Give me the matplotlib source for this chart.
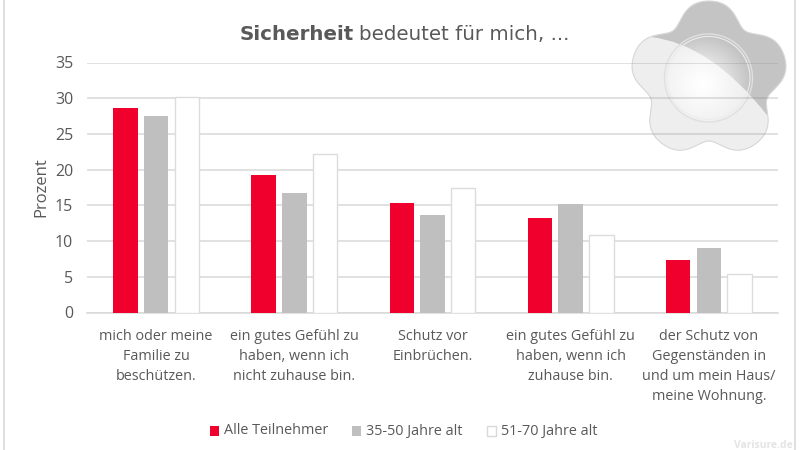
import numpy as np
import matplotlib
matplotlib.use("Agg")
import matplotlib.pyplot as plt
from matplotlib.patches import Polygon, Circle, Rectangle, PathPatch
from matplotlib.path import Path

categories = ["mich oder meine\nFamilie zu\nbeschützen.",
              "ein gutes Gefühl zu\nhaben, wenn ich\nnicht zuhause bin.",
              "Schutz vor\nEinbrüchen.",
              "ein gutes Gefühl zu\nhaben, wenn ich\nzuhause bin.",
              "der Schutz von\nGegenständen in\nund um mein Haus/\nmeine Wohnung."]
alle = [28.7, 19.2, 15.3, 13.3, 7.3]
jung = [27.5, 16.8, 13.6, 15.2, 9.0]
alt = [30.2, 22.2, 17.5, 10.9, 5.4]
series_names = ["Alle Teilnehmer", "35-50 Jahre alt", "51-70 Jahre alt"]
yticks = [0, 5, 10, 15, 20, 25, 30, 35]

TXT = "#595959"
plt.rcParams['font.family'] = ['Open Sans', 'DejaVu Sans']
W, H = 800, 450
fig = plt.figure(figsize=(8, 4.5), dpi=100, facecolor='white')

# decorative badge, behind the chart so the grid shows through
ov = fig.add_axes([0, 0, 1, 1], zorder=0)
ov.set_xlim(0, W); ov.set_ylim(H, 0); ov.axis('off')
cx, cy = 709, 80
th = np.linspace(0, 2*np.pi, 721)
phi = th + np.pi/2
r = 71.5 + 9*np.cos(5*phi) - 1.5*np.cos(10*phi)
bx, by = cx + r*np.cos(th), cy + r*np.sin(th)
blob_xy = np.column_stack([bx, by])
ov.add_patch(Polygon(blob_xy, closed=True, facecolor="#c4c4c4", edgecolor="none"))
verts = [(640, 30), (651, 37), (711, 44), (767, 115), (800, 170), (600, 170), (600, 30), (640, 30)]
codes = [Path.MOVETO, Path.LINETO, Path.CURVE3, Path.CURVE3, Path.LINETO, Path.LINETO, Path.LINETO, Path.CLOSEPOLY]
light = PathPatch(Path(verts, codes), facecolor="#eeeeee", edgecolor='none')
ov.add_patch(light)
light.set_clip_path(Polygon(blob_xy, closed=True, transform=ov.transData))
ring_x, ring_y = 708.5, 78
gx, gy = np.meshgrid(np.linspace(665, 752, 200), np.linspace(35, 122, 200))
d = np.hypot(gx-702, gy-84)/46
rgba = np.ones((200, 200, 4))
rgba[..., 3] = np.clip(1.05-d, 0, 1)
im = ov.imshow(rgba, extent=(665, 752, 122, 35), zorder=3, aspect='auto', interpolation='bilinear')
im.set_clip_path(Circle((ring_x, ring_y), 43, transform=ov.transData))
ov.add_patch(Circle((ring_x, ring_y), 44, facecolor='none', edgecolor="#e0e0e0", lw=1.0, zorder=4))
ov.add_patch(Circle((ring_x, ring_y), 41.5, facecolor='none', edgecolor="#ececec", lw=0.8, zorder=4))
ov.plot(np.r_[bx, bx[0]], np.r_[by, by[0]], color="#d8d8d8", lw=0.8)
ov.set_xlim(0, W); ov.set_ylim(H, 0)

ax = fig.add_axes([87/W, 1-312.5/H, 691/W, 250/H], zorder=2)
ax.patch.set_alpha(0)
x = np.arange(5)
w = 0.177
step = 0.222
ax.bar(x-step, alle, w, color="#f0002d", zorder=3)
ax.bar(x, jung, w, color="#bfbfbf", zorder=3)
ax.bar(x+step, alt, w, facecolor="white", edgecolor="#dcdcdc", linewidth=1.0, zorder=3)
ax.set_xlim(-0.5, 4.5)
ax.set_ylim(0, 35)
ax.set_yticks(yticks)
ax.set_xticks(x)
ax.set_xticklabels(categories, fontsize=10.4, color=TXT, linespacing=1.45, va='top')
ax.tick_params(axis='both', length=0)
ax.tick_params(axis='y', labelsize=11.5, labelcolor=TXT, pad=10)
ax.tick_params(axis='x', pad=12)
ax.grid(axis='y', color="#808080", alpha=0.3, linewidth=1.1, zorder=0)
ax.set_axisbelow(True)
for s in ['top', 'right', 'left']:
    ax.spines[s].set_visible(False)
ax.spines['bottom'].set_color("#d9d9d9")
ax.spines['bottom'].set_linewidth(1.1)
ax.set_ylabel("Prozent", fontsize=12, color=TXT, labelpad=4)

# page-level annotations in pixel coordinates
top = fig.add_axes([0, 0, 1, 1], zorder=3)
top.set_xlim(0, W); top.set_ylim(H, 0); top.axis('off')
top.plot([4, 4], [0, H], color="#d9d9d9", lw=1.2)
top.plot([795, 795], [0, H], color="#d9d9d9", lw=1.2)
top.text(240, 34.5, "Sicherheit", fontsize=14.3, fontweight='bold', color=TXT,
         family='DejaVu Sans', va='center', ha='left')
top.text(359, 34.5, "bedeutet für mich, ...", fontsize=14.3, color=TXT,
         family='DejaVu Sans', va='center', ha='left')
for px, col, ec, lab in [(210, "#f0002d", "none", series_names[0]),
                         (352, "#bfbfbf", "none", series_names[1]),
                         (487, "white", "#d9d9d9", series_names[2])]:
    top.add_patch(Rectangle((px, 426), 9, 10, facecolor=col, edgecolor=ec, lw=1))
    top.text(px+14, 431, lab, fontsize=10.4, color=TXT, va='center', ha='left')
top.text(793, 445, "Varisure.de", fontsize=7.5, color="#e4e4e4", ha='right', va='center',
         fontweight='bold')

fig.savefig("out.png", dpi=100, facecolor='white')
